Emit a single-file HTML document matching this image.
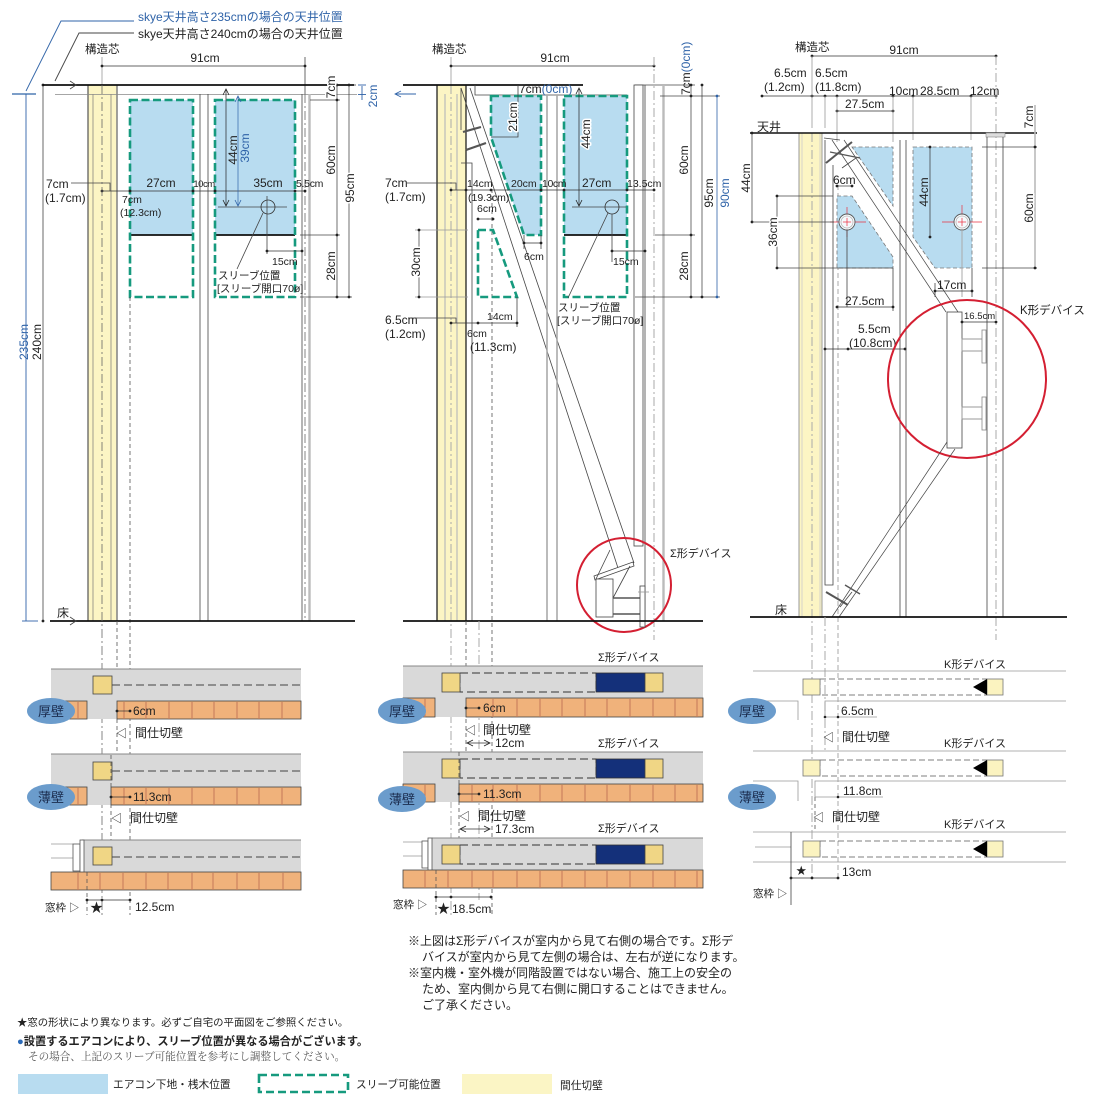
<!DOCTYPE html>
<html><head><meta charset="utf-8"><style>
html,body{margin:0;padding:0;background:#fff;}
svg{display:block;}
text{font-family:"Liberation Sans","Noto Sans CJK JP",sans-serif;font-size:12px;fill:#222;}
.sm{font-size:10.5px;}
.xs{font-size:9.5px;}
.b{fill:#2f63a8;}
.wt{paint-order:stroke;stroke:#fff;stroke-width:3px;stroke-linejoin:round;}
.ln{stroke:#444;stroke-width:0.8;fill:none;}
.lg{stroke:#999;stroke-width:0.8;fill:none;}
.gt{stroke:#bbb;stroke-width:2.4;fill:none;}
.dd{stroke:#666;stroke-width:0.8;stroke-dasharray:9 3 2 3;fill:none;}
.ddg{stroke:#aaa;stroke-width:1;stroke-dasharray:9 3 2 3;fill:none;}
.ds{stroke:#555;stroke-width:0.8;stroke-dasharray:4 3;fill:none;}
.dsg{stroke:#aaa;stroke-width:1;stroke-dasharray:5 3;fill:none;}
.dim{stroke:#333;stroke-width:0.7;fill:none;marker-start:url(#d);marker-mid:url(#d);marker-end:url(#d);}
.dimb{stroke:#2f63a8;stroke-width:0.8;fill:none;marker-start:url(#db);marker-end:url(#db);}
.grn{stroke:#169a7e;stroke-width:2.6;stroke-dasharray:8 3.5;fill:none;}
.blu{fill:#b8dcf0;}
.fl{stroke:#111;stroke-width:1.8;}
.band{fill:#d9d9d9;}
.or{fill:#f0b27b;stroke:#444;stroke-width:0.8;}
.dv{stroke:#c57858;stroke-width:1;}
.ys{fill:#f0d685;stroke:#444;stroke-width:0.8;}
.yl{fill:#fbf3c0;stroke:#777;stroke-width:0.8;}
.red{stroke:#d41f32;stroke-width:2;fill:none;}
</style></head><body>
<svg width="1095" height="1105" viewBox="0 0 1095 1105" xmlns="http://www.w3.org/2000/svg">
<defs>
<marker id="d" markerUnits="userSpaceOnUse" markerWidth="5" markerHeight="5" refX="2.5" refY="2.5"><circle cx="2.5" cy="2.5" r="1.4" fill="#222"/></marker>
<marker id="db" markerUnits="userSpaceOnUse" markerWidth="5" markerHeight="5" refX="2.5" refY="2.5"><circle cx="2.5" cy="2.5" r="1.4" fill="#2f63a8"/></marker>
<marker id="ar" markerUnits="userSpaceOnUse" markerWidth="8" markerHeight="8" refX="7" refY="4" orient="auto-start-reverse"><path d="M1,1 L7,4 L1,7" fill="none" stroke="#222" stroke-width="0.8"/></marker>
<marker id="arb" markerUnits="userSpaceOnUse" markerWidth="8" markerHeight="8" refX="7" refY="4" orient="auto-start-reverse"><path d="M1,1 L7,4 L1,7" fill="none" stroke="#2f63a8" stroke-width="0.8"/></marker>
</defs>

<!-- ================= PANEL 1 ================= -->
<text x="138" y="21" class="b">skye天井高さ235cmの場合の天井位置</text>
<text x="138" y="38" fill="#333">skye天井高さ240cmの場合の天井位置</text>
<polyline points="134,21 61,21 26,91" stroke="#2f63a8" stroke-width="0.9" fill="none"/>
<polyline points="134,33 79,33 55,81" stroke="#444" stroke-width="0.9" fill="none"/>
<line x1="12" y1="94" x2="36" y2="94" stroke="#2f63a8" stroke-width="1.2"/>
<line x1="26" y1="94" x2="26" y2="621" stroke="#2f63a8" stroke-width="0.9"/>
<line x1="22" y1="621" x2="38" y2="621" stroke="#2f63a8" stroke-width="0.9"/>
<text transform="translate(28,342) rotate(-90)" text-anchor="middle" class="b">235cm</text>
<line x1="43" y1="85" x2="43" y2="621" class="ln"/>
<circle cx="43" cy="85" r="1.4" fill="#222"/><circle cx="43" cy="621" r="1.4" fill="#222"/>
<text transform="translate(41,342) rotate(-90)" text-anchor="middle">240cm</text>

<text x="85" y="53" class="sm" style="font-size:11.5px">構造芯</text>
<line x1="102" y1="57" x2="102" y2="85" class="lg"/>
<line x1="305" y1="57" x2="305" y2="94" class="ln"/>
<polyline points="102,66 305,66" class="dim"/>
<text x="205" y="62" text-anchor="middle">91cm</text>

<!-- column -->
<rect x="88" y="85" width="29" height="536" fill="#fcf5c4"/>
<line x1="88" y1="85" x2="88" y2="621" stroke="#555" stroke-width="1.2"/>
<line x1="93" y1="94" x2="93" y2="621" stroke="#777" stroke-width="0.7"/>
<line x1="111" y1="94" x2="111" y2="621" stroke="#777" stroke-width="0.7"/>
<line x1="117" y1="85" x2="117" y2="621" stroke="#888" stroke-width="1.6"/>

<!-- ceiling -->
<line x1="43" y1="85" x2="354" y2="85" class="fl"/>
<line x1="55" y1="94.5" x2="357" y2="94.5" stroke="#888" stroke-width="0.8"/>
<polyline points="70,81 76,85 70,89" class="ln"/>

<!-- studs -->
<line x1="200" y1="94" x2="200" y2="621" class="ln"/>
<line x1="208" y1="94" x2="208" y2="621" class="ln"/>
<line x1="302" y1="94" x2="302" y2="621" class="ln"/>
<line x1="309.5" y1="94" x2="309.5" y2="621" class="gt"/>
<line x1="305" y1="94" x2="305" y2="621" class="dd"/>

<!-- boxes -->
<rect x="130" y="100" width="63" height="135" class="blu"/>
<rect x="215" y="100" width="80" height="135" class="blu"/>
<line x1="130" y1="235" x2="193" y2="235" stroke="#111" stroke-width="1.8"/>
<line x1="215" y1="235" x2="295" y2="235" stroke="#111" stroke-width="1.8"/>
<rect x="130" y="100" width="63" height="197" class="grn"/>
<rect x="215" y="100" width="80" height="197" class="grn"/>
<line x1="130" y1="297" x2="130" y2="915" class="ds"/>

<!-- horizontal dims -->
<polyline points="102,191 130,191 193,191 215,191 295,191 305,191" class="dim"/>
<text x="161" y="187" text-anchor="middle">27cm</text>
<text x="204" y="187" text-anchor="middle" class="xs" style="letter-spacing:-0.5px">10cm</text>
<text x="268" y="187" text-anchor="middle">35cm</text>
<text x="296" y="187" class="sm" style="letter-spacing:-0.3px">5.5cm</text>
<text x="46" y="188">7cm</text>
<polyline points="71,183 110,183 110,191" class="ln"/>
<text x="45" y="202">(1.7cm)</text>
<text x="122" y="203" class="sm">7cm</text>
<text x="120" y="216" class="sm">(12.3cm)</text>

<line x1="226" y1="89" x2="226" y2="206" stroke="#222" stroke-width="0.7" marker-start="url(#ar)" marker-end="url(#ar)"/>
<line x1="238" y1="96" x2="238" y2="206" stroke="#2f63a8" stroke-width="0.7" marker-start="url(#arb)" marker-end="url(#arb)"/>
<text transform="translate(237,150) rotate(-90)" text-anchor="middle">44cm</text>
<text transform="translate(249,148) rotate(-90)" text-anchor="middle" class="b">39cm</text>
<line x1="218" y1="207" x2="287" y2="207" class="ln"/>
<circle cx="268" cy="207" r="7" fill="none" stroke="#333" stroke-width="0.8"/>
<line x1="267" y1="196" x2="267" y2="254" class="ln"/>
<line x1="263" y1="213" x2="237" y2="269" class="ln"/>
<polyline points="267,251 302,251" class="dim"/>
<text x="272" y="265" class="sm">15cm</text>
<text x="218" y="279" class="sm">スリーブ位置</text>
<text x="217" y="292" class="sm">[スリーブ開口70ø]</text>

<!-- right dims -->
<line x1="310" y1="100" x2="340" y2="100" class="ln"/>
<line x1="300" y1="235" x2="340" y2="235" class="ln"/>
<line x1="300" y1="297" x2="352" y2="297" class="ln"/>
<line x1="354" y1="85" x2="356" y2="85" class="ln"/>
<polyline points="337,85 337,100 337,235 337,297" class="dim"/>
<polyline points="349,85 349,297" class="dim"/>
<text transform="translate(335,87) rotate(-90)" text-anchor="middle" class="wt">7cm</text>
<text transform="translate(335,160) rotate(-90)" text-anchor="middle" class="wt">60cm</text>
<text transform="translate(335,266) rotate(-90)" text-anchor="middle" class="wt">28cm</text>
<text transform="translate(354,188) rotate(-90)" text-anchor="middle" class="wt">95cm</text>
<line x1="362" y1="86" x2="362" y2="100" stroke="#2f63a8" stroke-width="0.9"/>
<line x1="358" y1="85" x2="366" y2="85" stroke="#2f63a8" stroke-width="0.9"/>
<line x1="358" y1="94.5" x2="366" y2="94.5" stroke="#2f63a8" stroke-width="0.9"/>
<text transform="translate(377,96) rotate(-90)" text-anchor="middle" class="b">2cm</text>

<!-- floor -->
<line x1="50" y1="621" x2="355" y2="621" class="fl"/>
<text x="57" y="617">床</text>
<polyline points="70,617 76,621 70,625" class="ln"/>
<line x1="102" y1="85" x2="102" y2="915" class="dd"/>
<line x1="117" y1="621" x2="117" y2="755" class="ds"/>

<!-- plan rows panel 1 -->
<rect x="51" y="669" width="250" height="50" class="band"/>
<line x1="51" y1="669" x2="301" y2="669" stroke="#888" stroke-width="1"/>
<rect x="51" y="701" width="36" height="18" class="or"/>
<rect x="117" y="701" width="184" height="18" class="or"/>
<line x1="78" y1="702" x2="78" y2="719" class="dv"/>
<g class="dv"><line x1="124" y1="702" x2="124" y2="719"/><line x1="146" y1="702" x2="146" y2="719"/><line x1="169" y1="702" x2="169" y2="719"/><line x1="192" y1="702" x2="192" y2="719"/><line x1="214" y1="702" x2="214" y2="719"/><line x1="237" y1="702" x2="237" y2="719"/><line x1="259" y1="702" x2="259" y2="719"/><line x1="282" y1="702" x2="282" y2="719"/></g>
<rect x="93" y="676" width="19" height="18" class="ys"/>
<line x1="112" y1="685" x2="301" y2="685" stroke="#444" stroke-width="0.9" stroke-dasharray="8 4"/>
<ellipse cx="51" cy="711" rx="24" ry="13" fill="#6b9ccc"/>
<text x="51" y="716" text-anchor="middle" style="font-size:13px;fill:#1b2c4e">厚壁</text>
<polyline points="117,711 130,711" class="dim"/>
<text x="133" y="715">6cm</text>
<text x="116" y="737" style="font-size:11px">◁</text>
<text x="135" y="737">間仕切壁</text>

<rect x="51" y="754" width="250" height="51" class="band"/>
<line x1="51" y1="754" x2="301" y2="754" stroke="#888" stroke-width="1"/>
<rect x="51" y="787" width="36" height="18" class="or"/>
<rect x="111" y="787" width="190" height="18" class="or"/>
<line x1="78" y1="788" x2="78" y2="805" class="dv"/>
<g class="dv"><line x1="124" y1="788" x2="124" y2="805"/><line x1="146" y1="788" x2="146" y2="805"/><line x1="169" y1="788" x2="169" y2="805"/><line x1="192" y1="788" x2="192" y2="805"/><line x1="214" y1="788" x2="214" y2="805"/><line x1="237" y1="788" x2="237" y2="805"/><line x1="259" y1="788" x2="259" y2="805"/><line x1="282" y1="788" x2="282" y2="805"/></g>
<rect x="93" y="762" width="19" height="18" class="ys"/>
<line x1="112" y1="771" x2="301" y2="771" stroke="#444" stroke-width="0.9" stroke-dasharray="8 4"/>
<ellipse cx="51" cy="797" rx="24" ry="13" fill="#6b9ccc"/>
<text x="51" y="802" text-anchor="middle" style="font-size:13px;fill:#1b2c4e">薄壁</text>
<line x1="111" y1="755" x2="111" y2="872" class="ds"/>
<polyline points="111,797 130,797" class="dim"/>
<text x="133" y="801">11.3cm</text>
<text x="111" y="822" style="font-size:11px">◁</text>
<text x="130" y="822">間仕切壁</text>

<rect x="82" y="840" width="219" height="32" class="band"/>
<line x1="82" y1="840" x2="301" y2="840" stroke="#888" stroke-width="1"/>
<line x1="51" y1="844" x2="73" y2="844" class="lg"/>
<line x1="51" y1="858" x2="73" y2="858" class="lg"/>
<rect x="73" y="844" width="7" height="27" fill="#fff" stroke="#555" stroke-width="0.8"/>
<rect x="80" y="840" width="4" height="35" fill="#fff" stroke="#555" stroke-width="0.8"/>
<rect x="51" y="872" width="250" height="18" class="or"/>
<g class="dv"><line x1="78" y1="873" x2="78" y2="890"/><line x1="100" y1="873" x2="100" y2="890"/><line x1="123" y1="873" x2="123" y2="890"/><line x1="146" y1="873" x2="146" y2="890"/><line x1="168" y1="873" x2="168" y2="890"/><line x1="192" y1="873" x2="192" y2="890"/><line x1="213" y1="873" x2="213" y2="890"/><line x1="237" y1="873" x2="237" y2="890"/><line x1="259" y1="873" x2="259" y2="890"/><line x1="283" y1="873" x2="283" y2="890"/></g>
<rect x="93" y="847" width="19" height="18" class="ys"/>
<line x1="112" y1="857" x2="301" y2="857" stroke="#444" stroke-width="0.9" stroke-dasharray="8 4"/>
<line x1="87" y1="872" x2="87" y2="915" class="ds"/>
<polyline points="87,900 102,900 130,900" class="dim"/>
<text x="45" y="911" class="sm">窓枠 ▷</text>
<text x="90" y="912" style="font-size:13px">★</text>
<text x="135" y="911">12.5cm</text>

<!-- ================= PANEL 2 ================= -->
<text x="432" y="53" style="font-size:11.5px">構造芯</text>
<line x1="451" y1="57" x2="451" y2="85" class="lg"/>
<polyline points="451,66 654,66" class="dim"/>
<text x="555" y="62" text-anchor="middle">91cm</text>
<line x1="654" y1="57" x2="654" y2="640" class="ddg"/>

<rect x="437" y="85" width="29" height="536" fill="#fcf5c4"/>
<line x1="437" y1="85" x2="437" y2="621" stroke="#111" stroke-width="1.2"/>
<line x1="466" y1="85" x2="466" y2="621" stroke="#111" stroke-width="1.2"/>
<line x1="445" y1="94" x2="445" y2="621" stroke="#bbb" stroke-width="1.2"/>
<line x1="457" y1="94" x2="457" y2="621" stroke="#bbb" stroke-width="1.2"/>
<line x1="451" y1="85" x2="451" y2="915" class="ddg"/>

<line x1="403" y1="85" x2="583" y2="85" class="fl"/>
<line x1="635" y1="85" x2="695" y2="85" class="ln"/>
<line x1="395" y1="94" x2="416" y2="94" stroke="#2f63a8" stroke-width="1" marker-start="url(#arb)"/>
<polyline points="475,85 475,95 627,95" class="ln"/>

<!-- brace -->
<line x1="461" y1="88" x2="618" y2="568" class="ln" stroke-width="0.7"/>
<line x1="470" y1="88" x2="634" y2="563" class="ln" stroke-width="0.7"/>
<line x1="461" y1="88" x2="461" y2="130" class="ln"/>
<line x1="463" y1="132" x2="481" y2="127" stroke="#555" stroke-width="2.2"/>
<line x1="466" y1="150" x2="486" y2="143" stroke="#555" stroke-width="2.2"/>
<polyline points="461,163 472,163 472,621" class="ln"/>
<line x1="492" y1="182" x2="492" y2="915" class="ds"/>

<!-- studs -->
<line x1="547" y1="95" x2="547" y2="621" stroke="#aaa" stroke-width="1.6"/>
<line x1="557" y1="95" x2="557" y2="621" stroke="#aaa" stroke-width="1.6"/>
<rect x="634" y="85" width="9" height="461" fill="#fff" stroke="#444" stroke-width="0.8"/>
<line x1="645" y1="85" x2="645" y2="621" class="ln"/>
<line x1="663.5" y1="85" x2="663.5" y2="621" class="gt"/>

<!-- boxes -->
<polygon points="491,96 541,96 541,235 524,235 491,137" class="blu"/>
<polygon points="491,96 541,96 541,235 524,235 491,137" class="grn"/>
<polygon points="478,230 493,230 517,297 478,297" class="grn"/>
<rect x="564" y="96" width="63" height="139" class="blu"/>
<line x1="564" y1="235" x2="627" y2="235" stroke="#111" stroke-width="1.8"/>
<rect x="564" y="96" width="63" height="201" class="grn"/>

<polyline points="451,190 466,190 491,190 541,190 564,190 627,190 654,190" class="dim"/>
<text x="385" y="187">7cm</text>
<polyline points="407,183 456,183 456,190" class="ln"/>
<text x="385" y="201">(1.7cm)</text>
<text x="467" y="187" class="sm">14cm</text>
<text x="468" y="201" class="sm">(19.3cm)</text>
<text x="511" y="187" class="sm">20cm</text>
<text x="542" y="187" class="sm" style="letter-spacing:-0.4px">10cm</text>
<text x="582" y="187">27cm</text>
<text x="627" y="187" class="sm">13.5cm</text>

<polyline points="491,137 518,137 518,96" class="ln"/>
<line x1="518" y1="85" x2="518" y2="96" class="ln"/>
<text transform="translate(517,117) rotate(-90)" text-anchor="middle" class="wt">21cm</text>
<text x="519" y="93"><tspan>7cm</tspan><tspan class="b">(0cm)</tspan></text>

<line x1="579" y1="88" x2="579" y2="206" stroke="#222" stroke-width="0.7" marker-start="url(#ar)" marker-end="url(#ar)"/>
<text transform="translate(590,134) rotate(-90)" text-anchor="middle" class="wt">44cm</text>
<line x1="572" y1="207" x2="626" y2="207" class="ln"/>
<circle cx="612" cy="207" r="7" fill="none" stroke="#333" stroke-width="0.8"/>
<line x1="612" y1="214" x2="612" y2="262" class="ln"/>
<line x1="608" y1="213" x2="568" y2="298" class="ln"/>
<polyline points="612,251 645,251" class="dim"/>
<text x="613" y="265" class="sm">15cm</text>
<text x="558" y="311" class="sm">スリーブ位置</text>
<text x="557" y="324" class="sm">[スリーブ開口70ø]</text>

<line x1="524" y1="235" x2="524" y2="249" class="ln"/>
<line x1="541" y1="235" x2="541" y2="249" class="ln"/>
<polyline points="524,243 541,243" class="dim"/>
<text x="524" y="260" class="sm">6cm</text>
<text x="477" y="212" class="sm">6cm</text>
<polyline points="478,219 493,219" class="dim"/>

<line x1="415" y1="230" x2="468" y2="230" class="lg"/>
<line x1="415" y1="297" x2="468" y2="297" class="lg"/>
<polyline points="419,230 419,297" class="dim"/>
<text transform="translate(420,262) rotate(-90)" text-anchor="middle" class="wt">30cm</text>

<line x1="517" y1="297" x2="517" y2="327" class="ln"/>
<polyline points="451,323 478,323 517,323" class="dim"/>
<text x="487" y="320" class="sm">14cm</text>
<text x="385" y="324">6.5cm</text>
<text x="385" y="338">(1.2cm)</text>
<polyline points="408,318 456,318 456,323" class="ln"/>
<text x="467" y="337" class="sm">6cm</text>
<text x="470" y="351">(11.3cm)</text>

<!-- right dims panel 2 -->
<line x1="660" y1="96" x2="720" y2="96" class="ln"/>
<line x1="655" y1="235" x2="695" y2="235" class="ln"/>
<line x1="635" y1="297" x2="720" y2="297" class="ln"/>
<polyline points="691,85 691,96 691,235 691,297" class="dim"/>
<polyline points="702,85 702,297" class="dim"/>
<polyline points="717,96 717,297" class="dimb"/>
<text transform="translate(690,95) rotate(-90)"><tspan>7cm</tspan><tspan class="b">(0cm)</tspan></text>
<text transform="translate(688,160) rotate(-90)" text-anchor="middle" class="wt">60cm</text>
<text transform="translate(688,266) rotate(-90)" text-anchor="middle" class="wt">28cm</text>
<text transform="translate(713,193) rotate(-90)" text-anchor="middle">95cm</text>
<text transform="translate(729,193) rotate(-90)" text-anchor="middle" class="b">90cm</text>

<!-- sigma device -->
<circle cx="624" cy="585" r="47" class="red"/>
<polygon points="594,576 633,562 634,566 595,580" fill="#fff" stroke="#444" stroke-width="0.8"/>
<rect x="596" y="579" width="17" height="38" fill="#fff" stroke="#444" stroke-width="0.8"/>
<line x1="596" y1="579" x2="610" y2="550" class="ln"/>
<line x1="613" y1="598" x2="630" y2="566" class="ln"/>
<line x1="613" y1="598" x2="640" y2="598" stroke="#555" stroke-width="1.6"/>
<line x1="613" y1="614" x2="640" y2="614" stroke="#555" stroke-width="1.6"/>
<rect x="640" y="586" width="5" height="41" fill="#fff" stroke="#444" stroke-width="0.8"/>
<line x1="638" y1="592" x2="649" y2="592" class="lg"/>
<text x="670" y="557" class="sm" style="font-size:11px">Σ形デバイス</text>
<line x1="403" y1="621" x2="703" y2="621" class="fl"/>
<line x1="466" y1="621" x2="466" y2="752" class="ds"/>
<line x1="479" y1="621" x2="479" y2="900" class="ddg"/>

<!-- plan rows panel 2 -->
<rect x="403" y="666" width="300" height="51" class="band"/>
<line x1="403" y1="666" x2="703" y2="666" stroke="#888" stroke-width="1"/>
<rect x="403" y="698" width="32" height="19" class="or"/>
<rect x="466" y="698" width="237" height="19" class="or"/>
<g class="dv"><line x1="425" y1="699" x2="425" y2="717"/><line x1="493" y1="699" x2="493" y2="717"/><line x1="517" y1="699" x2="517" y2="717"/><line x1="540" y1="699" x2="540" y2="717"/><line x1="562" y1="699" x2="562" y2="717"/><line x1="585" y1="699" x2="585" y2="717"/><line x1="607" y1="699" x2="607" y2="717"/><line x1="630" y1="699" x2="630" y2="717"/><line x1="653" y1="699" x2="653" y2="717"/><line x1="675" y1="699" x2="675" y2="717"/><line x1="697" y1="699" x2="697" y2="717"/></g>
<rect x="460" y="673" width="136" height="19" fill="none" stroke="#333" stroke-width="0.9" stroke-dasharray="8 4"/>
<rect x="442" y="673" width="18" height="19" class="ys"/>
<rect x="596" y="673" width="49" height="19" fill="#14307a" stroke="#333" stroke-width="0.8"/>
<rect x="645" y="673" width="18" height="19" class="ys"/>
<text x="598" y="661" style="font-size:11px">Σ形デバイス</text>
<ellipse cx="402" cy="711" rx="24" ry="13" fill="#6b9ccc"/>
<text x="402" y="716" text-anchor="middle" style="font-size:13px;fill:#1b2c4e">厚壁</text>
<polyline points="466,708 479,708" class="dim"/>
<text x="483" y="712">6cm</text>
<text x="465" y="734" style="font-size:11px">◁</text>
<text x="483" y="734">間仕切壁</text>
<line x1="467" y1="743" x2="490" y2="743" stroke="#333" stroke-width="0.7" marker-start="url(#ar)" marker-end="url(#ar)"/>
<text x="495" y="747">12cm</text>

<rect x="403" y="752" width="300" height="50" class="band"/>
<line x1="403" y1="752" x2="703" y2="752" stroke="#888" stroke-width="1"/>
<rect x="403" y="784" width="32" height="18" class="or"/>
<rect x="459" y="784" width="244" height="18" class="or"/>
<g class="dv"><line x1="425" y1="785" x2="425" y2="802"/><line x1="472" y1="785" x2="472" y2="802"/><line x1="493" y1="785" x2="493" y2="802"/><line x1="517" y1="785" x2="517" y2="802"/><line x1="540" y1="785" x2="540" y2="802"/><line x1="562" y1="785" x2="562" y2="802"/><line x1="585" y1="785" x2="585" y2="802"/><line x1="607" y1="785" x2="607" y2="802"/><line x1="630" y1="785" x2="630" y2="802"/><line x1="653" y1="785" x2="653" y2="802"/><line x1="675" y1="785" x2="675" y2="802"/><line x1="697" y1="785" x2="697" y2="802"/></g>
<rect x="460" y="759" width="136" height="19" fill="none" stroke="#333" stroke-width="0.9" stroke-dasharray="8 4"/>
<rect x="442" y="759" width="18" height="19" class="ys"/>
<rect x="596" y="759" width="49" height="19" fill="#14307a" stroke="#333" stroke-width="0.8"/>
<rect x="645" y="759" width="18" height="19" class="ys"/>
<text x="598" y="747" style="font-size:11px">Σ形デバイス</text>
<ellipse cx="402" cy="799" rx="24" ry="13" fill="#6b9ccc"/>
<text x="402" y="804" text-anchor="middle" style="font-size:13px;fill:#1b2c4e">薄壁</text>
<line x1="459" y1="752" x2="459" y2="840" class="ds"/>
<polyline points="459,794 479,794" class="dim"/>
<text x="483" y="798">11.3cm</text>
<text x="459" y="820" style="font-size:11px">◁</text>
<text x="478" y="820">間仕切壁</text>
<line x1="460" y1="829" x2="490" y2="829" stroke="#333" stroke-width="0.7" marker-start="url(#ar)" marker-end="url(#ar)"/>
<text x="495" y="833">17.3cm</text>

<rect x="432" y="838" width="271" height="32" class="band"/>
<line x1="432" y1="838" x2="703" y2="838" stroke="#888" stroke-width="1"/>
<line x1="403" y1="842" x2="422" y2="842" class="lg"/>
<line x1="403" y1="856" x2="422" y2="856" class="lg"/>
<rect x="422" y="841" width="6" height="27" fill="#fff" stroke="#555" stroke-width="0.8"/>
<rect x="428" y="838" width="4" height="36" fill="#fff" stroke="#555" stroke-width="0.8"/>
<rect x="403" y="870" width="300" height="18" class="or"/>
<g class="dv"><line x1="425" y1="871" x2="425" y2="888"/><line x1="448" y1="871" x2="448" y2="888"/><line x1="472" y1="871" x2="472" y2="888"/><line x1="493" y1="871" x2="493" y2="888"/><line x1="517" y1="871" x2="517" y2="888"/><line x1="540" y1="871" x2="540" y2="888"/><line x1="562" y1="871" x2="562" y2="888"/><line x1="585" y1="871" x2="585" y2="888"/><line x1="607" y1="871" x2="607" y2="888"/><line x1="630" y1="871" x2="630" y2="888"/><line x1="653" y1="871" x2="653" y2="888"/><line x1="675" y1="871" x2="675" y2="888"/><line x1="697" y1="871" x2="697" y2="888"/></g>
<rect x="460" y="845" width="136" height="19" fill="none" stroke="#333" stroke-width="0.9" stroke-dasharray="8 4"/>
<rect x="442" y="845" width="18" height="19" class="ys"/>
<rect x="596" y="845" width="49" height="19" fill="#14307a" stroke="#333" stroke-width="0.8"/>
<rect x="645" y="845" width="18" height="19" class="ys"/>
<text x="598" y="832" style="font-size:11px">Σ形デバイス</text>
<line x1="436" y1="870" x2="436" y2="915" class="ds"/>
<polyline points="436,897 451,897 491,897" class="dim"/>
<text x="393" y="908" class="sm">窓枠 ▷</text>
<text x="437" y="913" style="font-size:13px">★</text>
<text x="452" y="913">18.5cm</text>

<!-- ================= PANEL 3 ================= -->
<text x="795" y="51" style="font-size:11.5px">構造芯</text>
<polyline points="812,56 996,56" class="dim"/>
<text x="904" y="54" text-anchor="middle">91cm</text>
<text x="774" y="77">6.5cm</text>
<text x="764" y="91">(1.2cm)</text>
<text x="815" y="77">6.5cm</text>
<text x="815" y="91">(11.8cm)</text>
<text x="889" y="95">10cm</text>
<text x="920" y="95">28.5cm</text>
<text x="970" y="95">12cm</text>
<polyline points="762,96 812,96 825,96 837,96 893,96 913,96 971,96 996,96" class="dim"/>
<polyline points="837,111 893,111" class="dim"/>
<text x="845" y="108">27.5cm</text>
<g class="lg" stroke-width="1.6" stroke="#bbb"><line x1="812" y1="56" x2="812" y2="128"/><line x1="825" y1="96" x2="825" y2="128"/><line x1="837" y1="96" x2="837" y2="142"/><line x1="893" y1="96" x2="893" y2="142"/><line x1="913" y1="96" x2="913" y2="140"/><line x1="971" y1="96" x2="971" y2="140"/></g>
<line x1="996" y1="56" x2="996" y2="640" class="ddg"/>
<text x="757" y="131">天井</text>

<rect x="799" y="133" width="23" height="484" fill="#fcf5c4"/>
<line x1="799" y1="133" x2="799" y2="617" stroke="#999" stroke-width="1"/>
<line x1="802" y1="133" x2="802" y2="617" stroke="#ccc" stroke-width="0.8"/>
<line x1="820" y1="133" x2="820" y2="617" stroke="#ccc" stroke-width="0.8"/>
<line x1="822" y1="133" x2="822" y2="617" stroke="#999" stroke-width="1"/>
<line x1="812" y1="133" x2="812" y2="880" class="ddg"/>
<line x1="750" y1="133" x2="1037" y2="133" stroke="#111" stroke-width="1.4"/>
<rect x="986" y="133" width="19" height="4" fill="#ddd" stroke="#888" stroke-width="0.6"/>
<polyline points="825,140 825,585 833,585 833,165" class="ln" stroke="#666"/>
<line x1="838" y1="185" x2="838" y2="880" class="dsg"/>
<line x1="900" y1="140" x2="900" y2="617" class="ln"/>
<line x1="906" y1="140" x2="906" y2="617" class="ln"/>
<line x1="987" y1="137" x2="987" y2="617" class="ln"/>
<line x1="1003" y1="137" x2="1003" y2="617" class="ln"/>

<!-- blue regions -->
<g fill="#b8dcf0" stroke="#777" stroke-width="0.8" stroke-dasharray="4 2.5">
<polygon points="852,147 893,147 893,206"/>
<polygon points="837,196 852,196 893,257 893,268 837,268"/>
<polygon points="913,147 972,147 972,268 935,268 913,237"/>
</g>

<!-- brace upper -->
<line x1="832" y1="140" x2="946" y2="312" stroke="#444" stroke-width="0.7"/>
<line x1="844" y1="140" x2="958" y2="312" stroke="#444" stroke-width="0.7"/>
<line x1="824" y1="138" x2="840" y2="140" class="ln"/>
<line x1="826" y1="163" x2="852" y2="142" stroke="#555" stroke-width="2"/>
<line x1="830" y1="152" x2="860" y2="158" stroke="#555" stroke-width="1.2"/>
<line x1="842" y1="168" x2="856" y2="158" class="ln"/>

<!-- circles -->
<g stroke="#e83040" stroke-width="0.7"><line x1="830" y1="222" x2="866" y2="222"/><line x1="847" y1="207" x2="847" y2="237"/><line x1="942" y1="222" x2="982" y2="222"/><line x1="962" y1="205" x2="962" y2="240"/></g>
<circle cx="847" cy="222" r="8" fill="#fff" fill-opacity="0.85" stroke="#555" stroke-width="0.9"/>
<circle cx="847" cy="222" r="6" fill="none" stroke="#aaa" stroke-width="0.6"/>
<circle cx="962" cy="222" r="8" fill="#fff" fill-opacity="0.85" stroke="#555" stroke-width="0.9"/>
<circle cx="962" cy="222" r="6" fill="none" stroke="#aaa" stroke-width="0.6"/>
<g stroke="#e83040" stroke-width="0.7"><line x1="843" y1="222" x2="851" y2="222"/><line x1="847" y1="218" x2="847" y2="226"/><line x1="958" y1="222" x2="966" y2="222"/><line x1="962" y1="218" x2="962" y2="226"/></g>
<line x1="847" y1="230" x2="847" y2="307" class="ln"/>
<line x1="962" y1="230" x2="962" y2="297" stroke="#aaa" stroke-width="1"/>

<!-- left dims panel 3 -->
<polyline points="752,133 752,222" class="dim"/>
<line x1="752" y1="222" x2="834" y2="222" class="ln"/>
<text transform="translate(750,178) rotate(-90)" text-anchor="middle" class="wt">44cm</text>
<line x1="777" y1="196" x2="833" y2="196" class="ln"/>
<line x1="777" y1="268" x2="893" y2="268" class="ln"/>
<polyline points="777,196 777,268" class="dim"/>
<text transform="translate(777,232) rotate(-90)" text-anchor="middle" class="wt">36cm</text>
<text x="833" y="184">6cm</text>
<polyline points="837,186 852,186" class="dim"/>
<polyline points="930,147 930,237" class="dim"/>
<text transform="translate(928,192) rotate(-90)" text-anchor="middle">44cm</text>
<line x1="935" y1="283" x2="935" y2="297" class="ln"/>
<line x1="972" y1="268" x2="972" y2="297" class="ln"/>
<polyline points="935,291 972,291" class="dim"/>
<text x="937" y="289">17cm</text>
<line x1="893" y1="268" x2="893" y2="311" class="ln"/>
<polyline points="837,307 893,307" class="dim"/>
<text x="845" y="305">27.5cm</text>
<text x="858" y="333">5.5cm</text>
<text x="849" y="347">(10.8cm)</text>
<polyline points="825,349 848,349 905,349" class="dim"/>

<!-- right dims panel 3 -->
<line x1="982" y1="147" x2="1037" y2="147" class="ln"/>
<line x1="982" y1="268" x2="1037" y2="268" class="ln"/>
<line x1="1035" y1="105" x2="1035" y2="268" stroke="#bbb" stroke-width="1.6"/>
<circle cx="1035" cy="147" r="1.4" fill="#222"/><circle cx="1035" cy="268" r="1.4" fill="#222"/>
<text transform="translate(1033,117) rotate(-90)" text-anchor="middle">7cm</text>
<text transform="translate(1033,208) rotate(-90)" text-anchor="middle" class="wt">60cm</text>

<!-- K device -->
<circle cx="967" cy="379" r="79" class="red"/>
<rect x="947" y="312" width="15" height="136" fill="#fff" stroke="#444" stroke-width="0.8"/>
<rect x="962" y="339" width="21" height="12" fill="#fff" stroke="#999" stroke-width="1"/>
<rect x="962" y="407" width="21" height="12" fill="#fff" stroke="#999" stroke-width="1"/>
<rect x="982" y="330" width="4" height="33" fill="#fff" stroke="#888" stroke-width="0.8"/>
<rect x="982" y="397" width="4" height="33" fill="#fff" stroke="#888" stroke-width="0.8"/>
<polyline points="962,322 996,322" class="dim"/>
<text x="964" y="319" class="xs">16.5cm</text>
<text x="1020" y="314" style="font-size:11.5px">K形デバイス</text>

<!-- brace lower -->
<line x1="947" y1="442" x2="832" y2="617" stroke="#444" stroke-width="0.7"/>
<line x1="955" y1="449" x2="839" y2="617" stroke="#444" stroke-width="0.7"/>
<line x1="826" y1="592" x2="848" y2="605" stroke="#555" stroke-width="2"/>
<line x1="845" y1="585" x2="860" y2="594" stroke="#555" stroke-width="1.4"/>
<line x1="840" y1="607" x2="852" y2="592" class="ln"/>
<line x1="750" y1="617" x2="1067" y2="617" class="fl"/>
<text x="775" y="614">床</text>
<line x1="825" y1="617" x2="825" y2="750" class="ddg"/>

<!-- plan rows panel 3 -->
<text x="944" y="668" style="font-size:11px">K形デバイス</text>
<line x1="753" y1="671" x2="1066" y2="671" class="lg"/>
<rect x="820" y="679" width="167" height="16" fill="none" stroke="#555" stroke-width="0.8" stroke-dasharray="6 3"/>
<rect x="803" y="679" width="17" height="16" class="yl"/>
<rect x="987" y="679" width="16" height="16" class="yl"/>
<polygon points="973,687 987,679 987,695" fill="#000"/>
<polyline points="753,701 798,701 798,720" class="lg"/>
<polyline points="1066,701 825,701 825,717" class="lg"/>
<ellipse cx="752" cy="711" rx="24" ry="13" fill="#6b9ccc"/>
<text x="752" y="716" text-anchor="middle" style="font-size:13px;fill:#1b2c4e">厚壁</text>
<line x1="825" y1="717" x2="877" y2="717" class="lg" stroke="#666"/>
<circle cx="825" cy="717" r="1.3" fill="#222"/><circle cx="838" cy="717" r="1.3" fill="#222"/>
<text x="841" y="715">6.5cm</text>
<text x="823" y="741" style="font-size:11px">◁</text>
<text x="842" y="741">間仕切壁</text>

<text x="944" y="747" style="font-size:11px">K形デバイス</text>
<line x1="753" y1="751" x2="1066" y2="751" class="lg"/>
<rect x="820" y="760" width="167" height="16" fill="none" stroke="#555" stroke-width="0.8" stroke-dasharray="6 3"/>
<rect x="803" y="760" width="17" height="16" class="yl"/>
<rect x="987" y="760" width="16" height="16" class="yl"/>
<polygon points="973,768 987,760 987,776" fill="#000"/>
<polyline points="753,781 798,781 798,801" class="lg"/>
<polyline points="1066,781 815,781 815,797" class="lg"/>
<line x1="815" y1="797" x2="815" y2="832" class="ds"/>
<ellipse cx="752" cy="797" rx="24" ry="13" fill="#6b9ccc"/>
<text x="752" y="802" text-anchor="middle" style="font-size:13px;fill:#1b2c4e">薄壁</text>
<line x1="815" y1="797" x2="883" y2="797" class="lg" stroke="#666"/>
<circle cx="838" cy="797" r="1.3" fill="#222"/>
<text x="843" y="795">11.8cm</text>
<text x="813" y="821" style="font-size:11px">◁</text>
<text x="832" y="821">間仕切壁</text>

<text x="944" y="828" style="font-size:11px">K形デバイス</text>
<line x1="753" y1="832" x2="1066" y2="832" class="lg"/>
<rect x="820" y="841" width="167" height="16" fill="none" stroke="#555" stroke-width="0.8" stroke-dasharray="6 3"/>
<rect x="803" y="841" width="17" height="16" class="yl"/>
<rect x="987" y="841" width="16" height="16" class="yl"/>
<polygon points="973,849 987,841 987,857" fill="#000"/>
<line x1="753" y1="862" x2="1066" y2="862" class="lg"/>
<line x1="755" y1="847" x2="791" y2="847" class="lg"/>
<line x1="791" y1="832" x2="791" y2="905" class="ln"/>
<polyline points="791,878 812,878 838,878" class="dim"/>
<text x="796" y="874" class="sm">★</text>
<text x="842" y="876">13cm</text>
<text x="753" y="897" class="sm">窓枠 ▷</text>

<!-- notes -->
<g style="font-size:10.6px">
<text x="408" y="945">※上図はΣ形デバイスが室内から見て右側の場合です。Σ形デ</text>
<text x="422" y="961">バイスが室内から見て左側の場合は、左右が逆になります。</text>
<text x="408" y="977">※室内機・室外機が同階設置ではない場合、施工上の安全の</text>
<text x="422" y="993">ため、室内側から見て右側に開口することはできません。</text>
<text x="422" y="1009">ご了承ください。</text>
</g>
<text x="17" y="1026" style="font-size:10.4px">★窓の形状により異なります。必ずご自宅の平面図をご参照ください。</text>
<text x="17" y="1045" style="font-size:11.2px;font-weight:bold"><tspan fill="#2a6ab8">●</tspan>設置するエアコンにより、スリーブ位置が異なる場合がございます。</text>
<text x="28" y="1060" style="font-size:10.6px;fill:#555;font-family:'Liberation Serif','Noto Serif CJK SC',serif">その場合、上記のスリーブ可能位置を参考にし調整してください。</text>

<!-- legend -->
<rect x="18" y="1074" width="90" height="20" fill="#b8dcf0"/>
<text x="113" y="1088" style="font-size:10.7px">エアコン下地・桟木位置</text>
<rect x="259" y="1075" width="89" height="17" fill="none" stroke="#169a7e" stroke-width="2.6" stroke-dasharray="8 4"/>
<text x="356" y="1088" style="font-size:10.7px">スリーブ可能位置</text>
<rect x="462" y="1074" width="90" height="20" fill="#fbf5c5"/>
<text x="560" y="1089" style="font-size:10.7px">間仕切壁</text>
</svg>
</body></html>
